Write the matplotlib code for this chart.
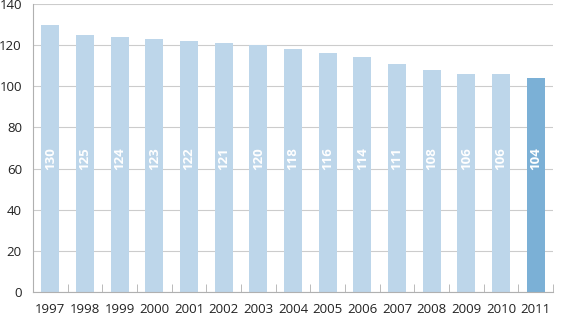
import matplotlib
matplotlib.use("Agg")
import matplotlib.pyplot as plt
import numpy as np

years = ["1997", "1998", "1999", "2000", "2001", "2002", "2003", "2004",
         "2005", "2006", "2007", "2008", "2009", "2010", "2011"]
values = [130, 125, 124, 123, 122, 121, 120, 118, 116, 114, 111, 108, 106, 106, 104]
y_ticks = [0, 20, 40, 60, 80, 100, 120, 140]

plt.rcParams["font.family"] = ["Open Sans", "DejaVu Sans"]

fig = plt.figure(figsize=(5.61, 3.2), dpi=100)
ax = fig.add_axes([0.0588, 0.0875, 0.927, 0.9])

x = np.arange(len(years))
colors = ["#bdd6ea"] * (len(years) - 1) + ["#7bb0d6"]
ax.bar(x, values, width=0.52, color=colors, zorder=2)

for xi, v in zip(x, values):
    ax.text(xi, 65, str(v), rotation=90, ha="center", va="center",
            color="white", fontsize=9.5, fontweight="bold", zorder=3)

ax.set_xlim(-0.5, len(years) - 0.5)
ax.set_ylim(0, 140)
ax.set_yticks(y_ticks)
ax.set_xticks(x)
ax.set_xticklabels(years)
ax.set_xticks(np.arange(-0.5, len(years), 1.0), minor=True)

ax.grid(axis="y", color="#cccccc", linewidth=0.8, zorder=0)
for side in ["top", "right"]:
    ax.spines[side].set_visible(False)
for side in ["left", "bottom"]:
    ax.spines[side].set_color("#b0b0b0")
    ax.spines[side].set_linewidth(0.8)

ax.tick_params(axis="x", which="major", length=0, pad=8, labelsize=9.5, colors="#222222")
ax.tick_params(axis="x", which="minor", length=6, direction="in", color="#b0b0b0")
ax.tick_params(axis="y", length=0, pad=8, labelsize=9.5, colors="#222222")

fig.savefig("out.png", dpi=100)
